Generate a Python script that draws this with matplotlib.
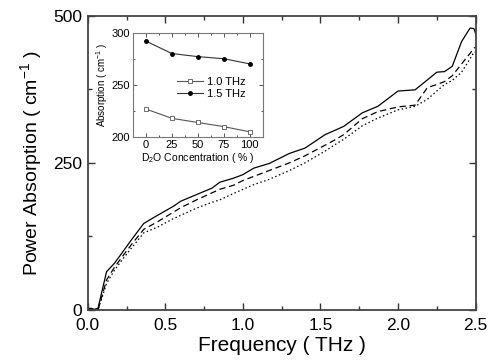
import matplotlib
matplotlib.use("Agg")
from matplotlib import pyplot as plt
from matplotlib.ticker import MultipleLocator
from matplotlib.transforms import ScaledTranslation

plt.rcParams["font.family"] = ["Liberation Sans", "DejaVu Sans"]
plt.rcParams["mathtext.fontset"] = "custom"
plt.rcParams["mathtext.rm"] = "Liberation Sans"

# main spectra (frequency in THz, absorption in cm^-1)
freq = [0, 0.02, 0.04, 0.065, 0.12, 0.17, 0.22, 0.28, 0.36, 0.45, 0.55, 0.6,
        0.7, 0.8, 0.85, 0.94, 1.0, 1.07, 1.17, 1.3, 1.4, 1.53, 1.6, 1.65,
        1.77, 1.87, 2.0, 2.11, 2.19, 2.25, 2.3, 2.35, 2.41, 2.465, 2.49, 2.5]
solid = [2, 3, 1, 3, 65, 79, 97, 119, 147, 161, 176, 185,
         196, 207, 217, 224, 230, 241, 249, 266, 275, 298, 306, 312,
         335, 346, 372, 374, 391, 404, 405, 414, 456, 479, 478, 470]
dashed = [0, 1, 0, 0, 51, 72, 90, 111, 137, 150, 166, 174,
          187, 199, 205, 212, 220, 227, 237, 250, 262, 280, 290, 298,
          325, 337, 345, 348, 378, 383, 388, 398, 418, 436, 445, 446]
dotted = [0, 0, 0, 0, 45, 67, 85, 105, 131, 141, 155, 161,
          173, 183, 187, 198, 205, 213, 222, 237, 250, 270, 282, 290,
          313, 326, 340, 346, 358, 372, 383, 390, 404, 427, 438, 438]

# inset: absorption vs D2O concentration
conc = [0, 25, 50, 75, 100]
abs_10 = [227, 218, 214, 210, 205]
abs_15 = [292.5, 280.5, 277.5, 275.5, 270.5]

fig = plt.figure(figsize=(4.94, 3.64), dpi=100)
ax = fig.add_axes([0.178, 0.1484, 0.7846, 0.8085])

ax.plot(freq, solid, color="black", lw=0.9, ls="-")
ax.plot(freq, dashed, color="black", lw=0.9, ls=(0, (5, 3)))
ax.plot(freq, dotted, color="black", lw=0.9, ls=(0, (1.2, 2)))

ax.set_xlim(0, 2.5)
ax.set_ylim(0, 500)
ax.xaxis.set_major_locator(MultipleLocator(0.5))
ax.xaxis.set_minor_locator(MultipleLocator(0.25))
ax.yaxis.set_major_locator(MultipleLocator(250))
ax.yaxis.set_minor_locator(MultipleLocator(125))
ax.tick_params(which="both", direction="in", top=True, right=True,
               colors="#333333", labelcolor="black", labelsize=12.5)
ax.tick_params(axis="x", pad=6)
ax.tick_params(axis="y", pad=4)
ax.tick_params(which="major", length=5, width=1)
ax.tick_params(which="minor", length=3, width=1)
for s in ax.spines.values():
    s.set_linewidth(1.3)
    s.set_color("#444444")
ax.set_xlabel("Frequency ( THz )", fontsize=15, labelpad=2)
ax.set_ylabel("Power Absorption ( cm$^{-1}$ )", fontsize=14, labelpad=6)

# nudge the "0" y label up a little so it clears the "0.0" below it
fig.canvas.draw()
zero_lbl = ax.get_yticklabels()[0]
zero_lbl.set_transform(zero_lbl.get_transform() + ScaledTranslation(0, 2.5 / 72, fig.dpi_scale_trans))

# inset
ins = fig.add_axes([0.269, 0.6236, 0.263, 0.2849])
ins.plot(conc, abs_10, color="#555555", lw=0.8, marker="s", ms=2.5,
         mfc="white", mec="#555555", mew=0.6, label="1.0 THz")
ins.plot(conc, abs_15, color="#333333", lw=0.8, marker="o", ms=2.5,
         mfc="black", mec="black", label="1.5 THz")
ins.set_xlim(-12.5, 112.5)
ins.set_ylim(200, 300)
ins.xaxis.set_major_locator(MultipleLocator(25))
ins.xaxis.set_minor_locator(MultipleLocator(12.5))
ins.yaxis.set_major_locator(MultipleLocator(50))
ins.yaxis.set_minor_locator(MultipleLocator(25))
ins.tick_params(which="both", direction="in", top=True, right=True,
                colors="#555555", labelcolor="black", labelsize=8, pad=2)
ins.tick_params(which="major", length=3, width=0.7)
ins.tick_params(which="minor", length=1.5, width=0.7)
for s in ins.spines.values():
    s.set_linewidth(0.8)
    s.set_color("#777777")
ins.set_xlabel("D$_2$O Concentration ( % )", fontsize=7.5, labelpad=1)
ins.set_ylabel("Absorption ( cm$^{-1}$ )", fontsize=7, labelpad=1)
ins.legend(loc="center right", bbox_to_anchor=(0.9, 0.47), frameon=False,
           fontsize=8, handlelength=2.4, handletextpad=0.3,
           labelspacing=0.2, borderaxespad=0)

fig.savefig("out.png", dpi=100)
